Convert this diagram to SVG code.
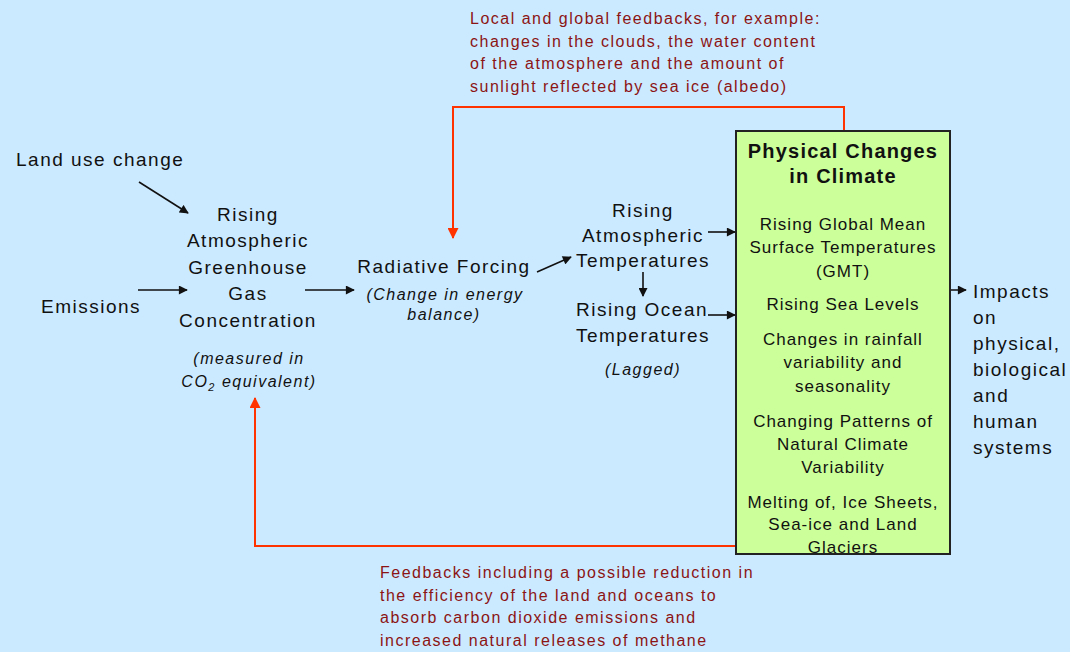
<svg xmlns="http://www.w3.org/2000/svg" width="1070" height="652" viewBox="0 0 1070 652">
<defs>
<style>
text{font-family:"Liberation Sans",Arial,sans-serif;fill:#111;letter-spacing:1.5px}
.m{font-size:19px}
.c{text-anchor:middle}
.i{font-style:italic;font-size:16px}
.s{font-size:17px;letter-spacing:1px}
.b{font-weight:bold;font-size:20px;letter-spacing:1.2px}
.r{fill:#8b1414;font-size:16px}
.blk{stroke:#111;stroke-width:1.6;fill:none}
.red{stroke:#ff3300;stroke-width:2;fill:none}
</style>
<marker id="ab" viewBox="0 0 10 10" markerWidth="10" markerHeight="9" refX="9" refY="5" orient="auto" markerUnits="userSpaceOnUse"><path d="M0,0 L10,5 L0,10 z" fill="#111"/></marker>
<marker id="ar" viewBox="0 0 10 10" markerWidth="12" markerHeight="11" refX="9" refY="5" orient="auto" markerUnits="userSpaceOnUse"><path d="M0,0 L10,5 L0,10 z" fill="#ff3300"/></marker>
</defs>
<rect x="0" y="0" width="1070" height="652" fill="#cceaff"/>

<g id="connectors">
<path class="blk" d="M139,182 L188,213" marker-end="url(#ab)"/>
<path class="blk" d="M138,290 L187,290" marker-end="url(#ab)"/>
<path class="blk" d="M305,290 L354,290" marker-end="url(#ab)"/>
<path class="blk" d="M537,272 L571,257" marker-end="url(#ab)"/>
<path class="blk" d="M708,232 L735,232" marker-end="url(#ab)"/>
<path class="blk" d="M643,272 L643,296" marker-end="url(#ab)"/>
<path class="blk" d="M708,315 L735,315" marker-end="url(#ab)"/>
<path class="blk" d="M925,290 L966,290" marker-end="url(#ab)"/>
<path class="red" d="M844,131 L844,107 L453,107 L453,238" marker-end="url(#ar)"/>
<path class="red" d="M736,546 L255,546 L255,398" marker-end="url(#ar)"/>
</g>

<g id="landuse"><text class="m" x="16" y="166">Land use change</text></g>
<g id="emissions"><text class="m" x="41" y="313">Emissions</text></g>

<g id="ghg">
<text class="m c" x="248" y="221">Rising</text>
<text class="m c" x="248" y="247">Atmospheric</text>
<text class="m c" x="248" y="274">Greenhouse</text>
<text class="m c" x="248" y="300">Gas</text>
<text class="m c" x="248" y="327">Concentration</text>
<text class="i c" x="249" y="364">(measured in</text>
<text class="i c" x="249" y="387">CO<tspan font-size="11" dy="4">2</tspan><tspan dy="-4"> equivalent)</tspan></text>
</g>

<g id="forcing">
<text class="m c" x="444" y="273">Radiative Forcing</text>
<text class="i c" x="445" y="300">(Change in energy</text>
<text class="i c" x="444" y="320">balance)</text>
</g>

<g id="atmtemp">
<text class="m c" x="643" y="217">Rising</text>
<text class="m c" x="643" y="242">Atmospheric</text>
<text class="m c" x="643" y="267">Temperatures</text>
</g>

<g id="oceantemp">
<text class="m c" x="642" y="316">Rising Ocean</text>
<text class="m c" x="643" y="342">Temperatures</text>
<text class="i c" x="643" y="375">(Lagged)</text>
</g>

<g id="physical">
<rect x="736" y="131" width="214" height="423" fill="#ccff99" stroke="#222" stroke-width="2"/>
<text class="b c" x="843" y="158">Physical Changes</text>
<text class="b c" x="843" y="183">in Climate</text>
<text class="s c" x="843" y="230">Rising Global Mean</text>
<text class="s c" x="843" y="253">Surface Temperatures</text>
<text class="s c" x="843" y="277">(GMT)</text>
<text class="s c" x="843" y="310">Rising Sea Levels</text>
<text class="s c" x="843" y="345">Changes in rainfall</text>
<text class="s c" x="843" y="368">variability and</text>
<text class="s c" x="843" y="392">seasonality</text>
<text class="s c" x="843" y="427">Changing Patterns of</text>
<text class="s c" x="843" y="450">Natural Climate</text>
<text class="s c" x="843" y="473">Variability</text>
<text class="s c" x="843" y="508">Melting of, Ice Sheets,</text>
<text class="s c" x="843" y="530">Sea-ice and Land</text>
<text class="s c" x="843" y="553">Glaciers</text>
</g>

<g id="impacts">
<text class="m" x="973" y="298">Impacts</text>
<text class="m" x="973" y="324">on</text>
<text class="m" x="973" y="350">physical,</text>
<text class="m" x="973" y="376">biological</text>
<text class="m" x="973" y="402">and</text>
<text class="m" x="973" y="428">human</text>
<text class="m" x="973" y="454">systems</text>
</g>

<g id="feedback-top">
<text class="r" x="470" y="24">Local and global feedbacks, for example:</text>
<text class="r" x="470" y="47">changes in the clouds, the water content</text>
<text class="r" x="470" y="69">of the atmosphere and the amount of</text>
<text class="r" x="470" y="92">sunlight reflected by sea ice (albedo)</text>
</g>

<g id="feedback-bottom">
<text class="r" x="380" y="578">Feedbacks including a possible reduction in</text>
<text class="r" x="380" y="601">the efficiency of the land and oceans to</text>
<text class="r" x="380" y="623">absorb carbon dioxide emissions and</text>
<text class="r" x="380" y="646">increased natural releases of methane</text>
</g>
</svg>
